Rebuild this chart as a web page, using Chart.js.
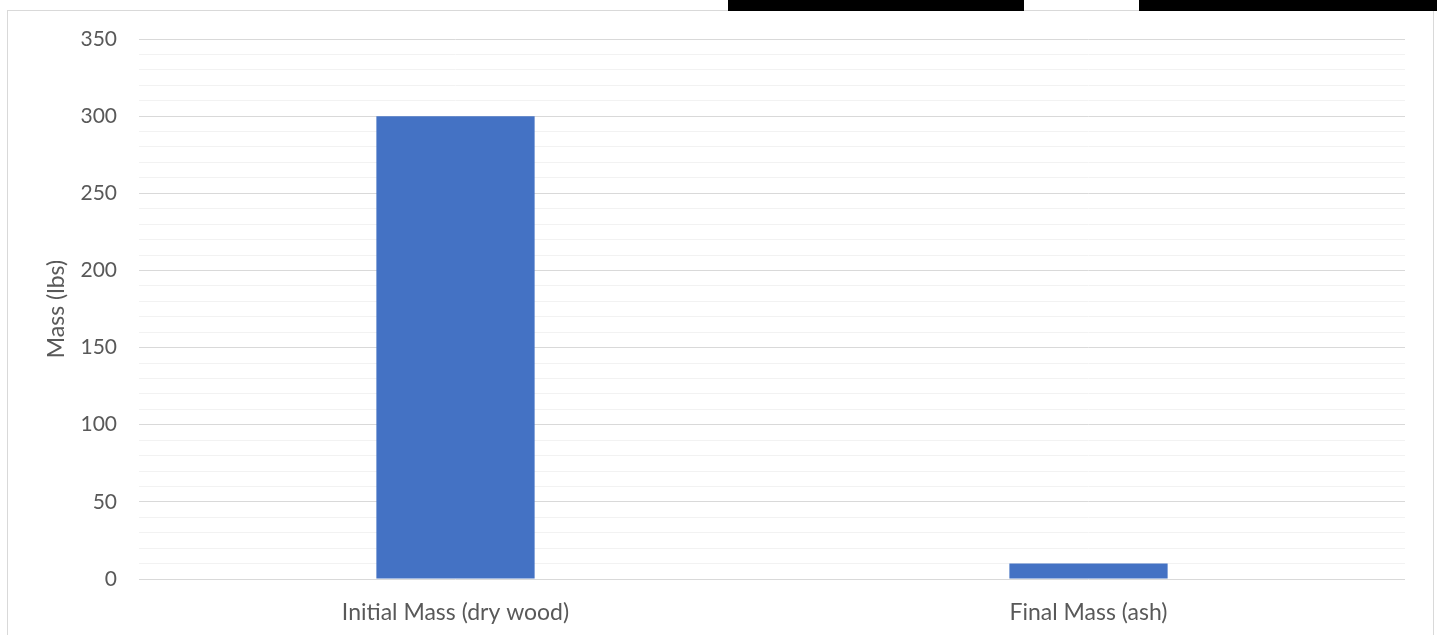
<!DOCTYPE html>
<html>
<head>
<meta charset="utf-8">
<title>Mass chart</title>
<script src="https://cdn.jsdelivr.net/npm/chart.js@4.4.1/dist/chart.umd.min.js"></script>
<style>
  html, body { margin: 0; padding: 0; background: #fff; }
  #wrap { width: 1437px; height: 635px; position: relative; }
</style>
</head>
<body>
<div id="wrap"><canvas id="massChart"></canvas></div>
<script>
const categories = ['Initial Mass (dry wood)', 'Final Mass (ash)'];
const massValues = [300, 10];
const yTickLabels = [0, 50, 100, 150, 200, 250, 300, 350];

const textColor = '#595959';
const fontFamily = 'Lato, "Liberation Sans", sans-serif';

// frame around the chart and the two dark blocks along the top edge
const framePlugin = {
    id: 'frame',
    beforeDraw(chart) {
        const ctx = chart.ctx;
        ctx.save();
        ctx.fillStyle = '#fff';
        ctx.fillRect(0, 0, chart.width, chart.height);
        ctx.strokeStyle = '#d9d9d9';
        ctx.lineWidth = 1;
        ctx.strokeRect(7.5, 10.5, 1426, 700);
        ctx.restore();
    },
    afterDraw(chart) {
        const ctx = chart.ctx;
        ctx.save();
        ctx.fillStyle = '#000';
        ctx.fillRect(728, 0, 296, 11);
        ctx.fillRect(1139, 0, 298, 11);
        ctx.restore();
    }
};

const massChart = new Chart(document.getElementById('massChart'), {
    type: 'bar',
    data: {
        labels: categories,
        datasets: [{
            label: 'Mass',
            data: massValues,
            backgroundColor: '#4472C4',
            borderWidth: 0,
            categoryPercentage: 1,
            barPercentage: 0.25
        }]
    },
    options: {
        responsive: true,
        maintainAspectRatio: false,
        animation: false,
        layout: {
            padding: { top: 39, right: 32, bottom: 0, left: 0 }
        },
        plugins: {
            legend: { display: false },
            tooltip: { enabled: false }
        },
        scales: {
            x: {
                grid: { display: false, drawTicks: false },
                border: { display: false },
                ticks: {
                    color: textColor,
                    font: { family: fontFamily, size: 23 },
                    padding: 20,
                    maxRotation: 0
                },
                afterFit(axis) { axis.height = 56; }
            },
            y: {
                min: 0,
                max: 350,
                border: { display: false },
                grid: {
                    drawTicks: false,
                    color: (c) => yTickLabels.includes(c.tick.value) ? '#d9d9d9' : '#f2f2f2',
                    lineWidth: 1
                },
                ticks: {
                    stepSize: 10,
                    autoSkip: false,
                    color: textColor,
                    font: { family: fontFamily, size: 21 },
                    padding: 22,
                    callback: (v) => yTickLabels.includes(v) ? String(v) : ''
                },
                title: {
                    display: true,
                    text: 'Mass (lbs)',
                    color: textColor,
                    font: { family: fontFamily, size: 23 },
                    padding: { top: 43, bottom: 0 }
                },
                afterFit(axis) { axis.width = 139; }
            }
        }
    },
    plugins: [framePlugin]
});
</script>
</body>
</html>
